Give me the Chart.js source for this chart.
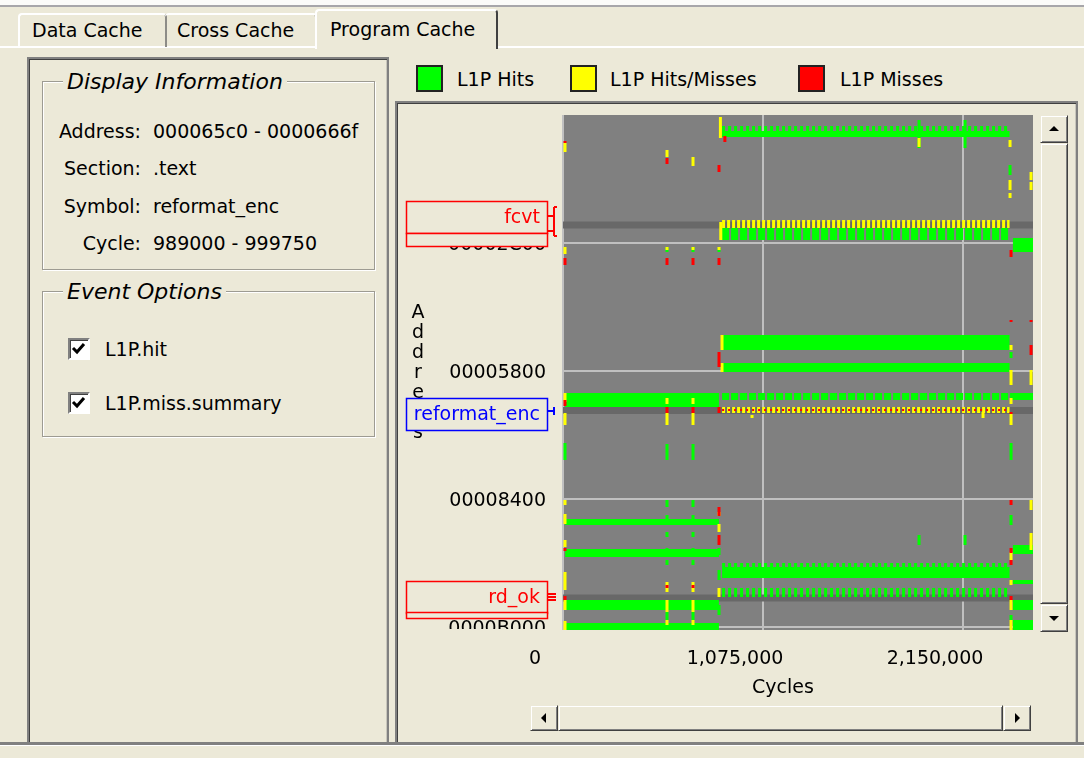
<!DOCTYPE html>
<html>
<head>
<meta charset="utf-8">
<title>Program Cache</title>
<script src="https://cdn.jsdelivr.net/npm/chart.js@4.4.1/dist/chart.umd.min.js"></script>
<style>
  body { margin: 0; width: 1084px; height: 758px; background: #ece9d8; position: relative; overflow: hidden;
         font-family: "DejaVu Sans", sans-serif; font-size: 19px; color: #000; }
  .abs { position: absolute; box-sizing: border-box; }
  .tab { border-top: 2px solid #fff; border-left: 2px solid #fff; border-right: 2px solid #8d8c87;
         border-radius: 4px 4px 0 0; line-height: 31px; padding-left: 12px; white-space: nowrap; }
  .frame { border: 2px solid #808080; box-shadow: inset 1px 1px #404040, inset -1px -1px #c8c6bc; }
  .group { border: 1px solid #9d9b92; box-shadow: 1px 1px 0 #fff, inset 1px 1px 0 #fff; }
  .gtitle { font-style: italic; font-size: 22px; line-height: 24px; padding: 0 4px; background: #ece9d8; white-space: nowrap; }
  .lbl { text-align: right; width: 100px; line-height: 22px; white-space: nowrap; }
  .txt { line-height: 22px; white-space: nowrap; }
  .check { width: 22px; height: 22px; background: #fff; border: 2px solid; border-color: #808080 #fff #fff #808080;
           box-shadow: inset 1px 1px #404040; }
  .swatch { width: 27px; height: 27px; border: 2px solid #222; }
  .btn { background: #ece9d8; border: 1px solid; border-color: #ece9d8 #404040 #404040 #ece9d8;
         box-shadow: inset 1px 1px #fff, inset -1px -1px #808080; }
  .tri { position: absolute; width: 0; height: 0; }
</style>
</head>
<body>

<!-- window top and tabs -->
<div class="abs" style="left:0;top:0;width:1084px;height:5px;background:#fbfbf9"></div>
<div class="abs" style="left:0;top:5px;width:1084px;height:2px;background:#a7a6aa"></div>
<div class="abs" style="left:0;top:46px;width:1084px;height:2px;background:#fff"></div>
<div class="abs tab" style="left:18px;top:13px;width:149px;height:34px">Data Cache</div>
<div class="abs tab" style="left:165px;top:13px;width:152px;height:34px;border-left:none">Cross Cache</div>
<div class="abs tab" style="left:315px;top:9px;width:183px;height:40px;background:#ece9d8;border-right:2px solid #404040;line-height:36px;padding-left:13px">Program Cache</div>

<!-- left panel -->
<div class="abs frame" style="left:27px;top:57px;width:362px;height:689px"></div>
<div class="abs group" style="left:42px;top:81px;width:333px;height:189px"></div>
<div class="abs gtitle" style="left:63px;top:70px">Display Information</div>
<div class="abs lbl" style="left:41px;top:120px">Address:</div>
<div class="abs txt" style="left:153px;top:120px">000065c0 - 0000666f</div>
<div class="abs lbl" style="left:41px;top:157px">Section:</div>
<div class="abs txt" style="left:153px;top:157px">.text</div>
<div class="abs lbl" style="left:41px;top:195px">Symbol:</div>
<div class="abs txt" style="left:153px;top:195px">reformat_enc</div>
<div class="abs lbl" style="left:41px;top:232px">Cycle:</div>
<div class="abs txt" style="left:153px;top:232px">989000 - 999750</div>

<div class="abs group" style="left:42px;top:291px;width:333px;height:146px"></div>
<div class="abs gtitle" style="left:63px;top:280px">Event Options</div>
<div class="abs check" style="left:68px;top:338px"><svg width="18" height="18" style="position:absolute;left:0;top:0"><path d="M3 8 L7 12 L14 4" stroke="#000" stroke-width="3" fill="none"/></svg></div>
<div class="abs txt" style="left:105px;top:338px">L1P.hit</div>
<div class="abs check" style="left:68px;top:392px"><svg width="18" height="18" style="position:absolute;left:0;top:0"><path d="M3 8 L7 12 L14 4" stroke="#000" stroke-width="3" fill="none"/></svg></div>
<div class="abs txt" style="left:105px;top:392px">L1P.miss.summary</div>

<!-- legend -->
<div class="abs swatch" style="left:416px;top:65px;background:#00ff00"></div>
<div class="abs txt" style="left:457px;top:68px">L1P Hits</div>
<div class="abs swatch" style="left:570px;top:65px;background:#ffff00"></div>
<div class="abs txt" style="left:610px;top:68px">L1P Hits/Misses</div>
<div class="abs swatch" style="left:798px;top:65px;background:#ff0000"></div>
<div class="abs txt" style="left:840px;top:68px">L1P Misses</div>

<!-- chart panel -->
<div class="abs frame" style="left:395px;top:101px;width:683px;height:645px"></div>
<canvas id="cacheChart" class="abs" width="640" height="600" style="left:398px;top:105px"></canvas>

<!-- scroll bars -->
<div class="abs btn" style="left:1040px;top:115px;width:28px;height:28px">
  <div class="tri" style="left:8px;top:10px;border-left:5px solid transparent;border-right:5px solid transparent;border-bottom:5px solid #000"></div></div>
<div class="abs btn" style="left:1040px;top:143px;width:28px;height:461px"></div>
<div class="abs btn" style="left:1040px;top:604px;width:28px;height:28px">
  <div class="tri" style="left:8px;top:11px;border-left:5px solid transparent;border-right:5px solid transparent;border-top:5px solid #000"></div></div>
<div class="abs btn" style="left:530px;top:705px;width:28px;height:26px">
  <div class="tri" style="left:10px;top:7px;border-top:5px solid transparent;border-bottom:5px solid transparent;border-right:5px solid #000"></div></div>
<div class="abs btn" style="left:558px;top:705px;width:445px;height:26px"></div>
<div class="abs btn" style="left:1003px;top:705px;width:28px;height:26px">
  <div class="tri" style="left:11px;top:7px;border-top:5px solid transparent;border-bottom:5px solid transparent;border-left:5px solid #000"></div></div>

<div class="abs" style="left:0;top:742px;width:1084px;height:3px;background:#808080"></div>
<div class="abs" style="left:0;top:745px;width:1084px;height:1px;background:#fff"></div>

<script>
// x = cycles, y = address (drawn top to bottom)
const xTicks = [0, 1075000, 2150000];
const yTicks = [0x2C00, 0x5800, 0x8400, 0xB000];
const xMax = 2526000;
const yMax = 45320;
const yTitle = 'Address';

// symbols shown on the address axis
const symbolNames = ['fcvt', 'reformat_enc', 'rd_ok'];
const symbolAddr = [9680, 26004, 42504];

// runs: [first cycle, last cycle, first address, last address]
const hitRuns = [
  [855000, 2400000, 1408, 1936],
  [2418000, 2526000, 10824, 12056],
  [855000, 2400000, 19360, 20680],
  [855000, 2400000, 21824, 22616],
  [12000, 838000, 24464, 25696],
  [2418000, 2526000, 24464, 25080],
  [12000, 838000, 35552, 36080],
  [2418000, 2526000, 37840, 38632],
  [12000, 838000, 38192, 38896],
  [855000, 2400000, 39776, 40744],
  [2418000, 2526000, 40920, 41272],
  [12000, 838000, 42680, 43560],
  [2418000, 2526000, 42680, 43560],
  [12000, 838000, 44704, 45320],
  [2418000, 2526000, 44440, 45320]
];
// loop bodies: hit every few lines
const hitTeeth = [
  [855000, 2400000, 968, 1408],
  [855000, 2400000, 39424, 39776],
  [855000, 2400000, 41624, 42416]
];
const hitBroken = [
  [855000, 2400000, 9944, 11000],
  [855000, 2418000, 24464, 25080]
];
const mixedBroken = [
  [855000, 2400000, 9240, 9944],
  [855000, 2400000, 25696, 26224]
];
const missBroken = [
  [855000, 2400000, 25872, 26048]
];

// short accesses: [cycle, first address, last address]
const hitMarks = [
  [1913500, 440, 2904], [2160750, 440, 2904], [2402600, 4400, 5280],
  [559000, 11616, 12056], [698750, 11616, 12056], [838500, 11704, 12056],
  [2408000, 20856, 21384],
  [10750, 28864, 30360], [559000, 28952, 30360], [698750, 28952, 30360], [2408000, 28864, 30360],
  [559000, 33880, 34496], [698750, 33880, 34496],
  [559000, 35200, 35816], [698750, 35200, 35816],
  [559000, 36696, 37136], [698750, 36696, 37136],
  [559000, 38104, 38720], [698750, 38104, 38720],
  [559000, 39160, 39600], [698750, 39160, 39600],
  [559000, 43736, 44440], [698750, 43736, 44440],
  [838500, 38104, 38720], [838500, 40040, 40920], [838500, 43120, 44000],
  [2408000, 35200, 36080], [2408000, 44000, 44440],
  [1913500, 36960, 37840], [2160750, 36960, 37840]
];
const mixedMarks = [
  [846000, 176, 2024], [10750, 2464, 3256], [559000, 3080, 3696], [698750, 3696, 4488],
  [1913500, 2024, 2816], [2402600, 2200, 2816], [2402600, 5720, 6600], [2402600, 6864, 7304],
  [2515500, 5016, 5720], [2515500, 5896, 6600],
  [848000, 9416, 11000], [10750, 11616, 12232],
  [559000, 11616, 11880], [698750, 11616, 11880], [838500, 11616, 11880],
  [854600, 19360, 20680], [854600, 21824, 22616],
  [2408000, 20240, 20680], [2408000, 22440, 23760], [2515500, 22440, 23760],
  [10750, 24464, 25256], [559000, 24904, 25432], [698750, 24904, 25432],
  [10750, 26224, 27280], [559000, 26224, 27280], [698750, 26224, 27280],
  [2408000, 24904, 25432], [2408000, 26312, 27280],
  [1015900, 26400, 26664], [2257500, 26136, 26664],
  [10750, 33880, 34320], [10750, 35112, 35992], [10750, 37400, 38016], [10750, 40216, 41800],
  [10750, 42680, 43560], [10750, 44528, 45320],
  [559000, 41096, 41976], [698750, 41096, 41976],
  [559000, 42680, 43736], [698750, 42680, 43736],
  [559000, 44440, 44880], [698750, 44440, 44880],
  [838500, 34936, 35288], [838500, 35992, 36696], [838500, 41624, 42416],
  [2408000, 38456, 39160], [2408000, 40920, 41360], [2408000, 42680, 43560], [2408000, 44440, 45320],
  [2515500, 33880, 34760], [2515500, 36784, 38280]
];
const missMarks = [
  [10750, 2288, 2464], [559000, 3784, 4312], [838500, 4400, 5016], [870000, 1848, 2376],
  [10750, 12584, 13200], [559000, 12584, 13200], [698750, 12584, 13200], [838500, 12584, 13200],
  [2408000, 11880, 12496], [2408000, 18040, 18216], [2515500, 18040, 18216], [2515500, 20240, 21120],
  [838500, 20856, 22176],
  [10750, 25080, 25608], [559000, 25696, 26224], [698750, 25696, 26224], [838500, 25696, 26224],
  [2408000, 26136, 26312],
  [10750, 38104, 38368], [10750, 42328, 42680],
  [838500, 34496, 35288], [838500, 36960, 37840],
  [559000, 41360, 41624], [698750, 41360, 41624],
  [2408000, 33880, 34320], [2408000, 38104, 38544], [2408000, 39160, 39600], [2408000, 42328, 42680]
];

function runData(runs) {
  var pts = [];
  runs.forEach(function(r) {
    var mid = (r[2] + r[3]) / 2, h = r[3] - r[2];
    pts.push({x: r[0], y: mid, h: h}, {x: r[1], y: mid, h: h}, {x: r[1], y: null});
  });
  return pts;
}

function markData(marks) {
  var pts = [];
  marks.forEach(function(m) {
    pts.push({x: m[0], y: m[1]}, {x: m[0], y: m[2]}, {x: m[0], y: null});
  });
  return pts;
}

// line width of a run = its address span on the y scale
function spanWidth(ctx) {
  var p = ctx.chart.data.datasets[ctx.datasetIndex].data[ctx.p0DataIndex];
  var y = ctx.chart.scales.y;
  if (!p || !p.h) return undefined;
  return Math.max(1, Math.abs(y.getPixelForValue(p.h) - y.getPixelForValue(0)));
}

function runSet(label, color, runs, dash, order) {
  return { label: label, data: runData(runs), borderColor: color, borderWidth: 2, borderDash: dash,
           segment: { borderWidth: spanWidth }, order: order, clip: 0, pointRadius: 0, fill: false };
}

function markSet(label, color, marks, order) {
  return { label: label, data: markData(marks), borderColor: color, borderWidth: 3,
           order: order, clip: 0, pointRadius: 0, fill: false };
}

var rows = [];
symbolAddr.forEach(function(a) {
  rows.push({x: 0, y: a}, {x: xMax, y: a}, {x: xMax, y: null});
});

var datasets = [
  runSet('L1P Misses', '#ff0000', missBroken, [2, 4], 1),
  markSet('L1P Misses', '#ff0000', missMarks, 1),
  runSet('L1P Hits/Misses', '#ffff00', mixedBroken, [3, 2], 2),
  markSet('L1P Hits/Misses', '#ffff00', mixedMarks, 2),
  runSet('L1P Hits', '#00ff00', hitRuns, [], 3),
  runSet('L1P Hits', '#00ff00', hitTeeth, [3, 3], 3),
  runSet('L1P Hits', '#00ff00', hitBroken, [7, 2], 3),
  markSet('L1P Hits', '#00ff00', hitMarks, 3),
  { label: 'symbols', data: rows, borderColor: '#686868', borderWidth: 7, order: 4, clip: 0, pointRadius: 0, fill: false }
];

const plotBack = {
  id: 'plotBack',
  beforeDraw: function(chart) {
    var a = chart.chartArea, ctx = chart.ctx;
    ctx.save();
    ctx.fillStyle = '#808080';
    ctx.fillRect(a.left, a.top, a.right - a.left, a.bottom - a.top);
    ctx.restore();
  }
};

// per symbol: box offsets from its row and the marker drawn next to the axis
const boxStyle = [
  { color: '#ff0000', main: [-24, 8], extra: [8, 21], mark: 'bracket' },
  { color: '#0000ff', main: [-13, 19], mark: 'tee' },
  { color: '#ff0000', main: [-17, 15], extra: [14, 20], mark: 'equals' }
];

const symbolBoxes = {
  id: 'symbolBoxes',
  afterDraw: function(chart) {
    var ctx = chart.ctx, a = chart.chartArea, y = chart.scales.y;
    ctx.save();
    // tick labels are cut at the bottom of the plot, as in the tool
    ctx.fillStyle = '#ece9d8';
    ctx.fillRect(0, a.bottom - 1, a.left - 2, 15);

    ctx.fillStyle = '#000';
    ctx.font = '19px "DejaVu Sans"';
    ctx.textAlign = 'center';
    ctx.textBaseline = 'middle';
    yTitle.split('').forEach(function(ch, i) {
      ctx.fillText(ch, a.left - 145, a.top + 198 + i * 20);
    });

    var x0 = a.left - 157, x1 = a.left - 16;
    symbolNames.forEach(function(name, i) {
      var st = boxStyle[i];
      var py = Math.round(y.getPixelForValue(symbolAddr[i]));
      ctx.lineWidth = 1.5;
      ctx.strokeStyle = st.color;
      [st.main, st.extra].forEach(function(b) {
        if (!b) return;
        ctx.fillStyle = '#ece9d8';
        ctx.fillRect(x0, py + b[0], x1 - x0, b[1] - b[0]);
        ctx.strokeRect(x0 + 0.5, py + b[0] + 0.5, x1 - x0, b[1] - b[0]);
      });
      ctx.fillStyle = st.color;
      ctx.textAlign = 'right';
      ctx.fillText(name, a.left - 23, py + (st.main[0] + st.main[1]) / 2 + 1);

      ctx.beginPath();
      var m0 = a.left - 16, m1 = a.left - 9;
      if (st.mark === 'bracket') {
        ctx.moveTo(m1, py - 18); ctx.lineTo(m1, py + 11);
        ctx.moveTo(m0, py - 9); ctx.lineTo(m1, py - 9);
        ctx.moveTo(m0, py + 6); ctx.lineTo(m1, py + 6);
        ctx.moveTo(m1, py - 18); ctx.lineTo(m1 + 3, py - 18);
        ctx.moveTo(m1, py + 11); ctx.lineTo(m1 + 3, py + 11);
      } else if (st.mark === 'tee') {
        ctx.moveTo(m0, py); ctx.lineTo(m1, py);
        ctx.moveTo(m1, py - 4); ctx.lineTo(m1, py + 4);
      } else {
        [-4, -1, 2].forEach(function(d) { ctx.moveTo(m0, py + d); ctx.lineTo(m1 + 2, py + d); });
      }
      ctx.lineWidth = 2;
      ctx.stroke();
    });
    ctx.restore();
  }
};

Chart.defaults.font.family = '"DejaVu Sans", sans-serif';
Chart.defaults.font.size = 19;
Chart.defaults.color = '#000';

new Chart(document.getElementById('cacheChart'), {
  type: 'line',
  data: { datasets: datasets },
  options: {
    responsive: false,
    animation: false,
    events: [],
    layout: { padding: { top: 10, right: 5, left: 0, bottom: 0 } },
    plugins: { legend: { display: false }, tooltip: { enabled: false } },
    elements: { point: { radius: 0 }, line: { tension: 0, borderCapStyle: 'butt' } },
    scales: {
      x: {
        type: 'linear', min: 0, max: xMax,
        afterBuildTicks: function(s) { s.ticks = xTicks.map(function(v) { return {value: v}; }); },
        afterFit: function(s) { s.height = 75; s.paddingLeft = 0; s.paddingRight = 0; },
        ticks: { autoSkip: false, maxRotation: 0, padding: 18, labelOffset: -28,
                 callback: function(v) { return v.toLocaleString('en-US'); } },
        grid: { color: '#c0c0c0', lineWidth: 2, drawTicks: false },
        border: { display: false },
        title: { display: true, text: 'Cycles     ', padding: { top: 0, bottom: 6 } }
      },
      y: {
        type: 'linear', min: 0, max: yMax, reverse: true,
        afterBuildTicks: function(s) { s.ticks = yTicks.map(function(v) { return {value: v}; }); },
        afterFit: function(s) { s.width = 165; s.paddingTop = 0; s.paddingBottom = 0; },
        ticks: { autoSkip: false, padding: 17, labelOffset: 2,
                 callback: function(v) { return v.toString(16).toUpperCase().padStart(8, '0'); } },
        grid: { color: '#c0c0c0', lineWidth: 2, drawTicks: false },
        border: { display: false }
      }
    }
  },
  plugins: [plotBack, symbolBoxes]
});
</script>
</body>
</html>
